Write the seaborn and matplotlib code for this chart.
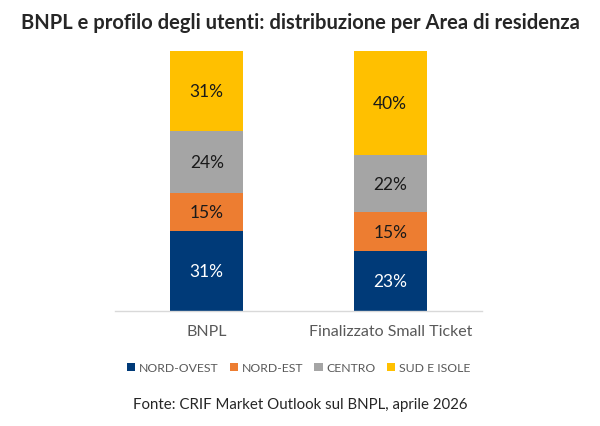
import numpy as np
import pandas as pd
import matplotlib
matplotlib.use("Agg")
import matplotlib.pyplot as plt
import seaborn as sns

categories = ["BNPL", "Finalizzato Small Ticket"]
areas = ["NORD-OVEST", "NORD-EST", "CENTRO", "SUD E ISOLE"]
nord_ovest = [31, 23]
nord_est = [15, 15]
centro = [24, 22]
sud_isole = [31, 40]
colors = ["#003A78", "#ED7D31", "#A5A5A5", "#FFC000"]
label_colors = ["white", "#1a1a1a", "#1a1a1a", "#1a1a1a"]

sns.set_style("white")
plt.rcParams["font.family"] = ["Lato", "DejaVu Sans"]

values = np.array([nord_ovest, nord_est, centro, sud_isole], dtype=float)
# 100% stacked, like the original
shares = values / values.sum(axis=0) * 100

fig = plt.figure(figsize=(6, 4.27), dpi=100)
ax = fig.add_axes([0.1917, 0.2693, 0.6116, 0.6089])

bottom = np.zeros(len(categories))
for i, area in enumerate(areas):
    df = pd.DataFrame({"cat": categories, "val": shares[i]})
    sns.barplot(data=df, x="cat", y="val", color=colors[i], width=0.4,
                bottom=bottom, ax=ax, label=area, saturation=1,
                edgecolor="none", linewidth=0)
    cont = ax.containers[-1]
    ax.bar_label(cont, labels=[f"{int(v)}%" for v in values[i]],
                 label_type="center", color=label_colors[i], fontsize=12.5)
    bottom = bottom + shares[i]

ax.set_xlim(-0.5, 1.5)
ax.set_ylim(0, 100)
ax.set_xlabel("")
ax.set_ylabel("")
ax.set_yticks([])
ax.tick_params(axis="x", length=0, pad=9, labelsize=11.5, labelcolor="#595959")
for s in ["top", "left", "right"]:
    ax.spines[s].set_visible(False)
ax.spines["bottom"].set_color("#D9D9D9")
ax.spines["bottom"].set_linewidth(1)

ax.legend(loc="upper center", bbox_to_anchor=(0.5, -0.155), ncol=4,
          frameon=False, fontsize=8.8, handlelength=0.7, handleheight=0.7,
          handletextpad=0.3, columnspacing=0.9, labelcolor="#595959")

fig.text(0.5, 0.947, "BNPL e profilo degli utenti: distribuzione per Area di residenza",
         ha="center", va="center", fontsize=14.5, fontweight="bold")
fig.text(0.5, 0.052, "Fonte: CRIF Market Outlook sul BNPL, aprile 2026",
         ha="center", va="center", fontsize=10.8)

fig.savefig("out.png", dpi=100)
